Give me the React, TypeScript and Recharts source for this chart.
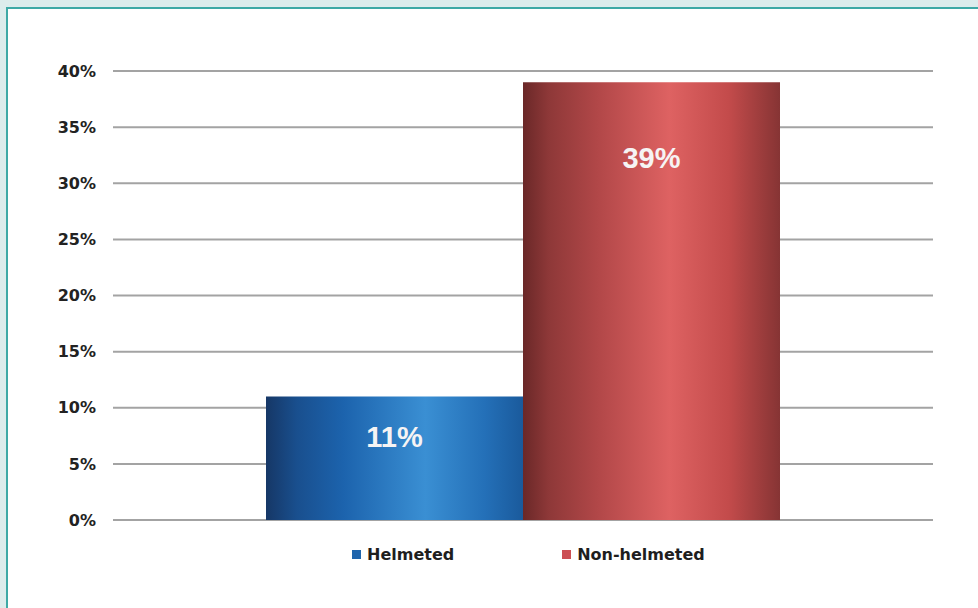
import React from "react";
import {
  BarChart,
  Bar,
  XAxis,
  YAxis,
  CartesianGrid,
  LabelList,
} from "recharts";

const categories = ["Riders"];
const helmeted = [11];
const nonHelmeted = [39];
const yTicks = [0, 5, 10, 15, 20, 25, 30, 35, 40];

const series = [
  { key: "helmeted", name: "Helmeted", values: helmeted, swatch: "#1f65ad", labelOffset: 30 },
  { key: "nonHelmeted", name: "Non-helmeted", values: nonHelmeted, swatch: "#cc4f54", labelOffset: 65 },
];

const data = categories.map((c, i) => ({
  category: c,
  helmeted: helmeted[i],
  nonHelmeted: nonHelmeted[i],
}));

const font = "'Liberation Sans', Arial, sans-serif";
const axisFont = "'DejaVu Sans', sans-serif";

export default function App() {
  return (
    <div
      style={{
        position: "absolute",
        left: 0,
        top: 0,
        width: 978,
        height: 608,
        overflow: "hidden",
        background: "#dcecec",
        fontFamily: font,
      }}
    >
      <div
        style={{
          position: "absolute",
          left: 6,
          top: 7,
          width: 990,
          height: 620,
          background: "#ffffff",
          border: "2px solid #3ea9a6",
        }}
      />
      <div style={{ position: "absolute", left: 0, top: 0 }}>
        <BarChart
          width={978}
          height={608}
          data={data}
          margin={{ top: 71, right: 45, bottom: 88, left: 53 }}
          barGap={0}
        >
          <defs>
            <linearGradient id="blueGrad" x1="0" y1="0" x2="1" y2="0">
              <stop offset="0%" stopColor="#163766" />
              <stop offset="12%" stopColor="#194f8e" />
              <stop offset="30%" stopColor="#1c63ad" />
              <stop offset="62%" stopColor="#3a8fd3" />
              <stop offset="85%" stopColor="#2470b8" />
              <stop offset="100%" stopColor="#1a5a9c" />
            </linearGradient>
            <linearGradient id="redGrad" x1="0" y1="0" x2="1" y2="0">
              <stop offset="0%" stopColor="#6a2828" />
              <stop offset="10%" stopColor="#8e3838" />
              <stop offset="30%" stopColor="#b34849" />
              <stop offset="57%" stopColor="#de6262" />
              <stop offset="80%" stopColor="#c34b4b" />
              <stop offset="100%" stopColor="#863434" />
            </linearGradient>
          </defs>
          <CartesianGrid vertical={false} stroke="#a3a3a3" strokeWidth={2} />
          <XAxis dataKey="category" hide />
          <YAxis
            width={60}
            domain={[0, 40]}
            ticks={yTicks}
            interval={0}
            axisLine={false}
            tickLine={false}
            tickMargin={11}
            tickFormatter={(v) => `${v}%`}
            tick={{ fill: "#222222", fontSize: 16, fontWeight: 700, fontFamily: axisFont }}
          />
          {series.map((s) => (
            <Bar
              key={s.key}
              dataKey={s.key}
              name={s.name}
              barSize={257}
              fill={s.key === "helmeted" ? "url(#blueGrad)" : "url(#redGrad)"}
              isAnimationActive={false}
            >
              <LabelList
                dataKey={s.key}
                position="insideTop"
                offset={s.labelOffset}
                formatter={(v: number) => `${v}%`}
                style={{
                  fill: "#f6f4f4",
                  fontSize: 29,
                  fontWeight: 700,
                  fontFamily: font,
                }}
              />
            </Bar>
          ))}
        </BarChart>
      </div>
      <div
        style={{
          position: "absolute",
          left: 352,
          top: 545,
          display: "flex",
          alignItems: "center",
          gap: 108,
        }}
      >
        {series.map((s) => (
          <div key={s.key} style={{ display: "flex", alignItems: "center" }}>
            <span
              style={{
                display: "inline-block",
                width: 9,
                height: 9,
                background: s.swatch,
                marginRight: 6,
              }}
            />
            <span
              style={{
                fontSize: 16,
                fontWeight: 700,
                color: "#1e1e1e",
                fontFamily: axisFont,
              }}
            >
              {s.name}
            </span>
          </div>
        ))}
      </div>
    </div>
  );
}
